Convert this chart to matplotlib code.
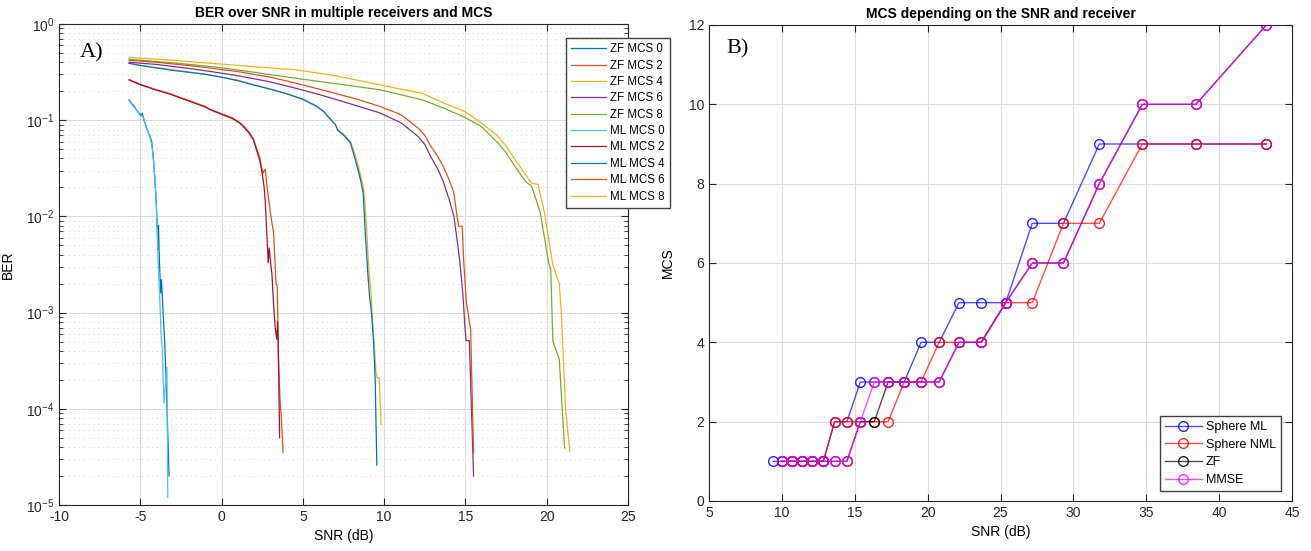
import numpy as np
import matplotlib as mpl
mpl.use('agg')
import matplotlib.pyplot as plt

plt.rcParams['font.family'] = ['Liberation Sans', 'DejaVu Sans']
plt.rcParams['font.size'] = 10
plt.rcParams['axes.unicode_minus'] = False

# ---- left panel: BER curves (SNR in dB, BER) ----
zf0_snr = [-5.69, -5.55, -5.4, -5.25, -5.1, -4.95, -4.88, -4.75, -4.6, -4.5, -4.4, -4.3, -4.2, -4.13,
           -4.05, -4.0, -3.95, -3.92, -3.88, -3.84, -3.78, -3.74, -3.70, -3.62, -3.5, -3.38, -3.3, -3.23]
zf0_ber = [0.163, 0.15, 0.142, 0.128, 0.12, 0.112, 0.118, 0.098, 0.082, 0.074, 0.068, 0.06, 0.042, 0.028,
           0.017, 0.012, 0.0072, 0.0045, 0.0080, 0.0042, 0.0022, 0.0016, 0.0022, 0.0012, 0.0005, 0.00014, 5e-5, 2.0e-5]

ml0_snr = [-5.69, -5.55, -5.4, -5.25, -5.1, -4.95, -4.85, -4.72, -4.6, -4.5, -4.4, -4.3, -4.2, -4.12,
           -4.05, -4.0, -3.95, -3.9, -3.85, -3.78, -3.72, -3.65, -3.54, -3.45, -3.36, -3.31]
ml0_ber = [0.16, 0.148, 0.138, 0.13, 0.118, 0.11, 0.112, 0.094, 0.08, 0.073, 0.066, 0.056, 0.04, 0.027,
           0.018, 0.011, 0.0065, 0.0035, 0.0022, 0.0011, 0.00058, 0.00042, 0.000115, 0.00018, 0.00027, 1.2e-5]

zf2_snr = [-5.69, -5.0, -4.0, -3.23, -2.0, -1.0, -0.63, 0.0, 0.66, 1.1, 1.44, 1.7, 1.96, 2.15, 2.35,
           2.45, 2.55, 2.62, 2.69, 2.8, 2.9, 3.0, 3.1, 3.2, 3.28, 3.35, 3.42, 3.48, 3.52, 3.6, 3.68, 3.78]
zf2_ber = [0.265, 0.236, 0.207, 0.19, 0.16, 0.139, 0.128, 0.117, 0.106, 0.095, 0.084, 0.075, 0.064, 0.051, 0.041,
           0.033, 0.028, 0.03, 0.031, 0.02, 0.015, 0.011, 0.0085, 0.0068, 0.0035, 0.002, 0.0019, 0.0006, 0.00026,
           0.00012, 8e-5, 3.5e-5]

ml2_snr = [-5.69, -5.0, -4.0, -3.23, -2.0, -1.0, -0.63, 0.0, 0.66, 1.1, 1.44, 1.7, 1.96, 2.15, 2.35,
           2.5, 2.61, 2.68, 2.75, 2.87, 2.93, 3.0, 3.1, 3.2, 3.3, 3.39, 3.45, 3.52, 3.57]
ml2_ber = [0.262, 0.234, 0.205, 0.188, 0.158, 0.137, 0.127, 0.115, 0.104, 0.094, 0.082, 0.073, 0.062, 0.049, 0.038,
           0.028, 0.0206, 0.015, 0.0085, 0.0033, 0.0047, 0.0035, 0.0025, 0.0012, 0.0007, 0.00053, 0.00081,
           0.0002, 5e-5]

zf4_snr = [-5.69, -5.0, -4.0, -3.0, -2.0, -1.0, 0.0, 1.0, 2.0, 3.0, 4.0, 5.0, 5.85, 6.3, 6.63, 7.0, 7.15,
           7.5, 7.93, 8.1, 8.32, 8.5, 8.71, 8.8, 8.9, 9.04, 9.2, 9.35, 9.5, 9.58, 9.70, 9.75, 9.82]
zf4_ber = [0.392, 0.372, 0.352, 0.332, 0.316, 0.3, 0.281, 0.259, 0.233, 0.211, 0.189, 0.166, 0.14, 0.123, 0.106,
           0.091, 0.08, 0.072, 0.06, 0.05, 0.038, 0.029, 0.021, 0.015, 0.0085, 0.0032, 0.0015, 0.00058, 0.00024,
           0.00021, 0.00021, 0.00012, 6.9e-5]

ml4_snr = [-5.69, -5.0, -4.0, -3.0, -2.0, -1.0, 0.0, 1.0, 2.0, 3.0, 4.0, 5.0, 5.85, 6.3, 6.63, 7.0, 7.15,
           7.5, 7.93, 8.1, 8.32, 8.5, 8.71, 8.84, 9.0, 9.1, 9.22, 9.35, 9.45, 9.55]
ml4_ber = [0.39, 0.37, 0.35, 0.33, 0.315, 0.3, 0.28, 0.258, 0.232, 0.21, 0.188, 0.165, 0.139, 0.122, 0.105,
           0.09, 0.078, 0.07, 0.058, 0.046, 0.034, 0.026, 0.0176, 0.0068, 0.0025, 0.0015, 0.001, 0.0005, 0.0002,
           2.6e-5]

zf6_snr = [-5.69, -4.0, -2.0, -0.63, 1.0, 3.0, 4.56, 6.0, 7.0, 8.45, 9.74, 11.04, 12.08, 12.5, 12.86,
           13.3, 13.64, 14.0, 14.29, 14.5, 14.68, 14.85, 14.95, 15.04, 15.24, 15.5]
zf6_ber = [0.40, 0.38, 0.345, 0.32, 0.29, 0.25, 0.215, 0.185, 0.165, 0.139, 0.119, 0.094, 0.068, 0.056, 0.042,
           0.031, 0.023, 0.015, 0.010, 0.0055, 0.0031, 0.0015, 0.0008, 0.00051, 0.00051, 2e-5]

ml6_snr = [-5.69, -4.0, -2.0, -0.63, 1.0, 3.0, 4.56, 6.0, 7.0, 8.45, 9.74, 11.04, 12.08, 12.5, 12.86,
           13.3, 13.64, 14.0, 14.29, 14.45, 14.58, 14.8, 14.9, 15.06, 15.32, 15.5]
ml6_ber = [0.42, 0.40, 0.37, 0.347, 0.32, 0.28, 0.243, 0.21, 0.19, 0.163, 0.139, 0.114, 0.083, 0.07, 0.054,
           0.042, 0.033, 0.024, 0.0176, 0.011, 0.0079, 0.0079, 0.0033, 0.00126, 0.00067, 3.5e-5]

zf8_snr = [-5.69, -3.0, -0.63, 2.0, 4.56, 7.0, 9.74, 12.34, 13.64, 14.93, 15.97, 17.0, 17.5, 18.05, 18.7,
           19.08, 19.6, 20.12, 20.25, 20.38, 20.77, 21.1]
zf8_ber = [0.43, 0.395, 0.361, 0.315, 0.273, 0.24, 0.207, 0.163, 0.134, 0.108, 0.086, 0.058, 0.046, 0.033, 0.023,
           0.0206, 0.011, 0.0033, 0.0028, 0.0005, 0.00033, 3.9e-5]

ml8_snr = [-5.69, -3.0, -0.63, 2.0, 4.56, 7.0, 9.74, 12.34, 13.9, 14.93, 15.97, 17.0, 17.5, 18.05, 19.08,
           19.47, 19.86, 20.38, 20.77, 20.9, 21.16, 21.42]
ml8_ber = [0.45, 0.42, 0.39, 0.36, 0.334, 0.29, 0.233, 0.19, 0.145, 0.124, 0.094, 0.068, 0.054, 0.039, 0.022,
           0.0215, 0.011, 0.0031, 0.002, 0.001, 0.0001, 3.6e-5]

ber_labels = ['ZF MCS 0', 'ZF MCS 2', 'ZF MCS 4', 'ZF MCS 6', 'ZF MCS 8',
              'ML MCS 0', 'ML MCS 2', 'ML MCS 4', 'ML MCS 6', 'ML MCS 8']

# ---- right panel: MCS chosen per SNR ----
snr_ml = [9.40, 10.03, 10.70, 11.39, 12.09, 12.84, 13.62, 14.46, 15.38, 16.34, 17.29, 18.39, 19.55,
          20.79, 22.15, 23.68, 25.36, 27.18, 29.32, 31.78, 34.73, 38.41, 43.24]
snr_grid = [10.03, 10.70, 11.39, 12.09, 12.84, 13.62, 14.46, 15.38, 16.34, 17.29, 18.39, 19.55,
            20.79, 22.15, 23.68, 25.36, 27.18, 29.32, 31.78, 34.73, 38.41, 43.24]
mcs_sphere_ml = [1, 1, 1, 1, 1, 1, 2, 2, 3, 3, 3, 3, 4, 4, 5, 5, 5, 7, 7, 9, 9, 9, 9]
mcs_sphere_nml = [1, 1, 1, 1, 1, 2, 2, 2, 2, 2, 3, 3, 4, 4, 4, 5, 5, 7, 7, 9, 9, 9]
mcs_zf = [1, 1, 1, 1, 1, 1, 1, 2, 2, 3, 3, 3, 3, 4, 4, 5, 6, 6, 8, 10, 10, 12]
mcs_mmse = [1, 1, 1, 1, 1, 1, 1, 2, 3, 3, 3, 3, 3, 4, 4, 5, 6, 6, 8, 10, 10, 12]

matlab = ['#0072BD', '#D95319', '#EDB120', '#7E2F8E', '#77AC30', '#4DBEEE', '#A2142F']

fig = plt.figure(figsize=(13.11, 5.51), dpi=100)
ax1 = fig.add_axes([59/1311, 1-505/551, 569/1311, 481/551])
ax2 = fig.add_axes([709/1311, 1-501/551, 583/1311, 476/551])

curves = [(zf0_snr, zf0_ber, matlab[0]), (zf2_snr, zf2_ber, matlab[1]), (zf4_snr, zf4_ber, matlab[2]),
          (zf6_snr, zf6_ber, matlab[3]), (zf8_snr, zf8_ber, matlab[4]), (ml0_snr, ml0_ber, matlab[5]),
          (ml2_snr, ml2_ber, matlab[6]), (ml4_snr, ml4_ber, matlab[0]), (ml6_snr, ml6_ber, matlab[1]),
          (ml8_snr, ml8_ber, matlab[2])]
for (s, b, c), lab in zip(curves, ber_labels):
    ax1.plot(s, b, color=c, lw=0.9, label=lab)

ax1.set_yscale('log')
ax1.set_xlim(-10, 25)
ax1.set_ylim(1e-5, 1)
ax1.set_xticks(np.arange(-10, 26, 5))
ax1.set_title('BER over SNR in multiple receivers and MCS', fontweight='bold', fontsize=10, pad=5)
ax1.set_xlabel('SNR (dB)')
ax1.set_ylabel('BER')
ax1.yaxis.set_label_coords(-0.077, 0.5)
ax1.grid(True, which='major', color='#dcdcdc', lw=0.8)
ax1.grid(True, which='minor', axis='y', color='#d6d6d6', lw=0.7, ls=(0, (1, 4)))
ax1.text(0.037, 0.94, 'A)', transform=ax1.transAxes, fontsize=16,
         family=['Liberation Serif'], va='center')
ax1.legend(loc='upper left', bbox_to_anchor=(566/1311, 1-38/551), bbox_transform=fig.transFigure,
           borderaxespad=0, fontsize=8.3, fancybox=False, edgecolor='#404040', framealpha=1,
           handlelength=3.0, labelspacing=0.38, borderpad=0.45, handletextpad=0.4)

series = [(snr_ml, mcs_sphere_ml, (0, 0, 1), 'Sphere ML'), (snr_grid, mcs_sphere_nml, (1, 0, 0), 'Sphere NML'),
          (snr_grid, mcs_zf, (0, 0, 0), 'ZF'), (snr_grid, mcs_mmse, (1, 0, 1), 'MMSE')]
for s, m, c, lab in series:
    ax2.plot(s, m, color=c + (0.7,), lw=1.0, marker='o', ms=7, mfc='none',
             mec=c + (0.85,), mew=1.0, label=lab)

ax2.set_xlim(5, 45)
ax2.set_ylim(0, 12)
ax2.set_xticks(np.arange(5, 46, 5))
ax2.set_yticks(np.arange(0, 13, 2))
ax2.set_title('MCS depending on the SNR and receiver', fontweight='bold', fontsize=10, pad=5)
ax2.set_xlabel('SNR (dB)')
ax2.set_ylabel('MCS')
ax2.yaxis.set_label_coords(-0.058, 0.5)
ax2.grid(True, color='#dcdcdc', lw=0.8)
ax2.text(0.029, 0.95, 'B)', transform=ax2.transAxes, fontsize=16,
         family=['Liberation Serif'], va='center')
ax2.legend(loc='lower right', bbox_to_anchor=(1281/1311, 1-491/551), bbox_transform=fig.transFigure,
           borderaxespad=0, fontsize=9, fancybox=False, edgecolor='#404040', framealpha=1,
           handlelength=3.0, labelspacing=0.45, borderpad=0.4, handletextpad=0.3)

for ax in (ax1, ax2):
    ax.set_axisbelow(True)
    ax.tick_params(which='both', direction='in', top=True, right=True, colors='#262626', labelsize=10)
    ax.tick_params(which='major', length=5)
    ax.tick_params(which='minor', length=3)
    for sp in ax.spines.values():
        sp.set_color('#262626')
        sp.set_linewidth(0.8)

fig.savefig('out.png', dpi=100)
